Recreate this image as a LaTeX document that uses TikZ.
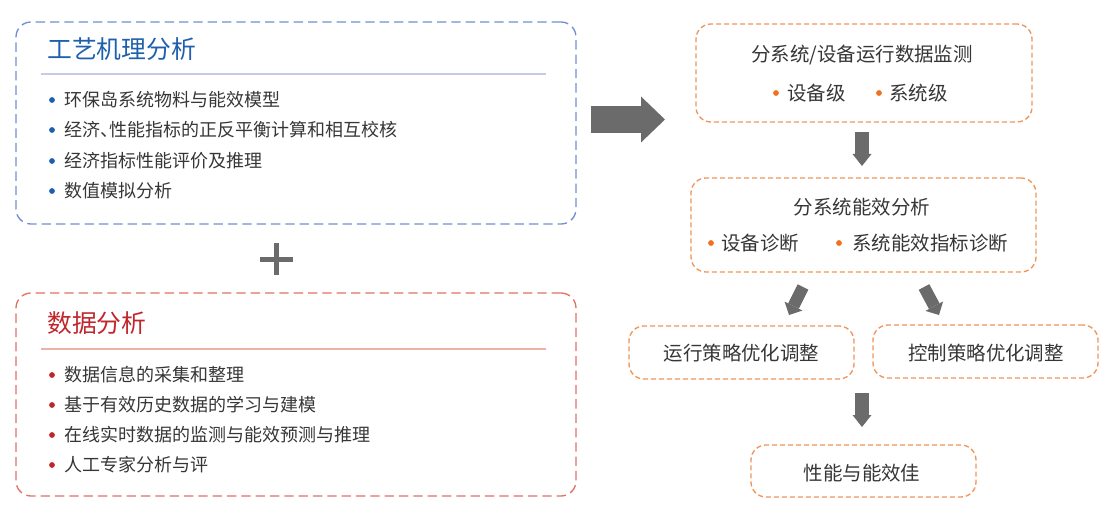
\documentclass[tikz,border=0pt]{standalone}
\usepackage{fontspec}
\setmainfont{Noto Sans CJK SC}
\usetikzlibrary{arrows.meta}
\definecolor{bluedash}{HTML}{6F8FD0}
\definecolor{bluetitle}{HTML}{1F60AE}
\definecolor{bluesep}{HTML}{C5CBE8}
\definecolor{reddash}{HTML}{E07262}
\definecolor{redtitle}{HTML}{C0272D}
\definecolor{redsep}{HTML}{EBB2A6}
\definecolor{orangedash}{HTML}{F0955A}
\definecolor{orangedot}{HTML}{F07020}
\definecolor{txt}{HTML}{363636}
\definecolor{arrowgray}{HTML}{6B6B6B}
\tikzset{
  bigbox/.style={draw, line width=1pt, rounded corners=11.25pt, dash pattern=on 7pt off 3.75pt, inner sep=0pt},
  obox/.style={draw=orangedash, line width=1pt, rounded corners=11.25pt, dash pattern=on 3.75pt off 2.25pt, inner sep=0pt},
  title/.style={anchor=west, inner sep=0pt, font=\fontsize{18.6pt}{20pt}\selectfont},
  item/.style={anchor=west, inner sep=0pt, text=txt, font=\fontsize{13.5pt}{15pt}\selectfont},
  rtext/.style={inner sep=0pt, text=txt, font=\fontsize{14.6pt}{16pt}\selectfont},
  ritem/.style={anchor=west, inner sep=0pt, text=txt, font=\fontsize{14.6pt}{16pt}\selectfont},
  blockarrow/.style={draw=arrowgray, line width=#1},
}
\begin{document}
\begin{tikzpicture}[x=0.75pt,y=-0.75pt]
\useasboundingbox (0,0) rectangle (1108,528);
% left boxes
\node[bigbox, draw=bluedash, minimum width=560*0.75pt, minimum height=202*0.75pt] (blue) at (296,123) {};
\node[bigbox, draw=reddash, minimum width=560*0.75pt, minimum height=203*0.75pt] (red) at (296,394.5) {};
\node[title, text=bluetitle] (bt) at (47,49) {工艺机理分析};
\draw[bluesep, line width=0.8pt] (41,74) -- (546,74);
\foreach \y/\t [count=\i] in {100/环保岛系统物料与能效模型, 130/{经济、\kern-0.5em 性能指标的正反平衡计算和相互校核}, 161/经济指标性能评价及推理, 191/数值模拟分析}{
  \fill[bluetitle] (52,\y) circle (2.9);
  \node[item] (bi\i) at (64,\y) {\t};
}
\node[title, text=redtitle] (rt) at (47,323) {数据分析};
\draw[redsep, line width=0.8pt] (41,349) -- (546,349);
\foreach \y/\t [count=\i] in {375/数据信息的采集和整理, 405/基于有效历史数据的学习与建模, 435/在线实时数据的监测与能效预测与推理, 465/人工专家分析与评}{
  \fill[redtitle] (52,\y) circle (2.9);
  \node[item] (ri\i) at (64,\y) {\t};
}
% plus
\fill[arrowgray] (260,256.5) rectangle (293,261.5);
\fill[arrowgray] (274,243) rectangle (279,275);
% right boxes
\node[obox, minimum width=336*0.75pt, minimum height=98*0.75pt] (o1) at (864,73) {};
\node[rtext] (o1t) at (862,55) {分系统/设备运行数据监测};
\fill[orangedot] (776,93) circle (2.9);
\node[ritem] (o1a) at (787,93) {设备级};
\fill[orangedot] (879,93) circle (2.9);
\node[ritem] (o1b) at (889,93) {系统级};

\node[obox, minimum width=345*0.75pt, minimum height=94*0.75pt] (o2) at (863.5,225) {};
\node[rtext] (o2t) at (862,207) {分系统能效分析};
\fill[orangedot] (711,243) circle (2.9);
\node[ritem] (o2a) at (721,243) {设备诊断};
\fill[orangedot] (839,243) circle (2.9);
\node[ritem] (o2b) at (852,243) {系统能效指标诊断};

\node[obox, minimum width=225*0.75pt, minimum height=53*0.75pt] (o3) at (741.5,352.5) {};
\node[rtext] (o3t) at (741.5,353) {运行策略优化调整};
\node[obox, minimum width=225*0.75pt, minimum height=53*0.75pt] (o4) at (985.5,351.5) {};
\node[rtext] (o4t) at (986,353) {控制策略优化调整};
\node[obox, minimum width=225*0.75pt, minimum height=52*0.75pt] (o5) at (863.5,471) {};
\node[rtext] (o5t) at (862,473) {性能与能效佳};

% arrows
\coordinate (ra1) at (591,119.5);
\coordinate (ra2) at (665,119.5);
\draw[blockarrow=27*0.75pt, -{Triangle[length=24*0.75pt, width=46*0.75pt, line width=0pt]}] (ra1) -- (ra2);
\coordinate (d1a) at (862,132);
\coordinate (d1b) at (862,166);
\draw[blockarrow=14*0.75pt, -{Triangle[length=12*0.75pt, width=19*0.75pt, line width=0pt]}] (d1a) -- (d1b);
\coordinate (d2a) at (862,393);
\coordinate (d2b) at (862,427);
\draw[blockarrow=14*0.75pt, -{Triangle[length=12*0.75pt, width=19*0.75pt, line width=0pt]}] (d2a) -- (d2b);
\coordinate (dla) at (803,287);
\coordinate (dlb) at (789,315);
\draw[blockarrow=12*0.75pt, -{Triangle[length=10*0.75pt, width=20*0.75pt, line width=0pt]}] (dla) -- (dlb);
\coordinate (dra) at (924,287);
\coordinate (drb) at (939,315);
\draw[blockarrow=12*0.75pt, -{Triangle[length=10*0.75pt, width=20*0.75pt, line width=0pt]}] (dra) -- (drb);
\end{tikzpicture}
\end{document}
